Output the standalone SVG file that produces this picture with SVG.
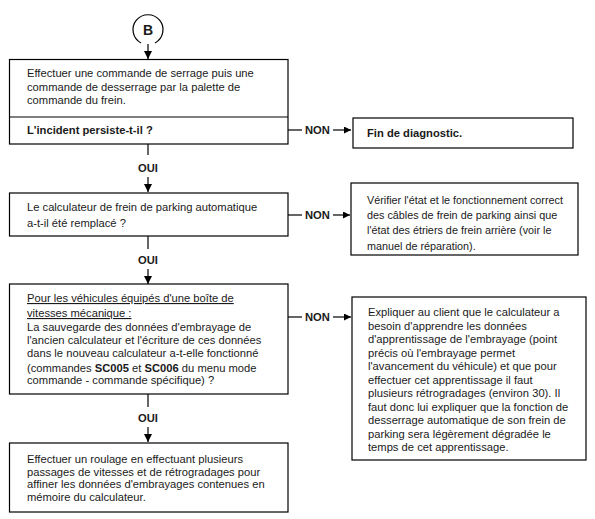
<svg xmlns="http://www.w3.org/2000/svg" width="595" height="519" viewBox="0 0 595 519">
<style>
.box{fill:#fff;stroke:#000;stroke-width:1.2}
.ln{stroke:#000;stroke-width:1.2;fill:none}
text{font-family:"Liberation Sans",Arial,sans-serif;font-size:11.2px;fill:#1a1a1a}
.b{font-weight:bold}
.s{font-size:10.8px}
</style>
<defs>
<marker id="ad" viewBox="0 0 10 10" refX="10" refY="5" markerWidth="8" markerHeight="8" markerUnits="userSpaceOnUse" orient="auto"><path d="M0,0L10,5L0,10z" fill="#000"/></marker>
<marker id="ar" viewBox="0 0 10 10" refX="10" refY="5" markerWidth="7" markerHeight="7" markerUnits="userSpaceOnUse" orient="auto"><path d="M0,0L10,5L0,10z" fill="#000"/></marker>
</defs>
<rect width="595" height="519" fill="#fff"/>
<g id="start">
<path class="ln" d="M141,43 A15,15 0 1 1 155,43" stroke-width="1.8"/>
<text x="148" y="35" text-anchor="middle" class="b" style="font-size:14px">B</text>
</g>
<g id="connectors">
<line class="ln" x1="148" y1="44" x2="148" y2="59" marker-end="url(#ad)"/>
<line class="ln" x1="288" y1="130" x2="302" y2="130"/>
<text x="305" y="134" class="b">NON</text>
<line class="ln" x1="333" y1="130" x2="351" y2="130" marker-end="url(#ar)"/>
<line class="ln" x1="148" y1="144" x2="148" y2="155"/>
<text x="148" y="172" class="b" text-anchor="middle">OUI</text>
<line class="ln" x1="148" y1="177" x2="148" y2="192" marker-end="url(#ad)"/>
<line class="ln" x1="288" y1="215" x2="302" y2="215"/>
<text x="305" y="219" class="b">NON</text>
<line class="ln" x1="333" y1="215" x2="350" y2="215" marker-end="url(#ar)"/>
<line class="ln" x1="148" y1="236" x2="148" y2="249"/>
<text x="148" y="264" class="b" text-anchor="middle">OUI</text>
<line class="ln" x1="148" y1="269" x2="148" y2="284" marker-end="url(#ad)"/>
<line class="ln" x1="288" y1="317" x2="302" y2="317"/>
<text x="305" y="321" class="b">NON</text>
<line class="ln" x1="333" y1="317" x2="351" y2="317" marker-end="url(#ar)"/>
<line class="ln" x1="148" y1="394" x2="148" y2="407"/>
<text x="148" y="422" class="b" text-anchor="middle">OUI</text>
<line class="ln" x1="148" y1="427" x2="148" y2="442" marker-end="url(#ad)"/>
</g>
<g id="n1">
<rect class="box" x="9.5" y="59.5" width="278.5" height="84.5"/>
<line class="ln" x1="9.5" y1="117" x2="288" y2="117"/>
<text x="27" y="77">Effectuer une commande de serrage puis une</text>
<text x="27" y="91">commande de desserrage par la palette de</text>
<text x="27" y="104">commande du frein.</text>
<text x="27" y="134" class="b">L'incident persiste-t-il ?</text>
</g>
<g id="n2">
<rect class="box" x="353" y="118" width="220" height="30"/>
<text x="367" y="137" class="b">Fin de diagnostic.</text>
</g>
<g id="n3">
<rect class="box" x="9.5" y="193" width="278.5" height="43"/>
<text x="27" y="211">Le calculateur de frein de parking automatique</text>
<text x="27" y="227">a-t-il été remplacé ?</text>
</g>
<g id="n4">
<rect class="box" x="351" y="183" width="227" height="72"/>
<text x="367" y="204" class="s">Vérifier l'état et le fonctionnement correct</text>
<text x="367" y="219" class="s">des câbles de frein de parking ainsi que</text>
<text x="367" y="234" class="s">l'état des étriers de frein arrière (voir le</text>
<text x="367" y="250" class="s">manuel de réparation).</text>
</g>
<g id="n5">
<rect class="box" x="9.5" y="284" width="278.5" height="110"/>
<text x="27" y="302" text-decoration="underline">Pour les véhicules équipés d'une boîte de </text>
<text x="27" y="317" text-decoration="underline">vitesses mécanique :</text>
<text x="27" y="331">La sauvegarde des données d'embrayage de</text>
<text x="27" y="344">l'ancien calculateur et l'écriture de ces données</text>
<text x="27" y="357">dans le nouveau calculateur a-t-elle fonctionné</text>
<text x="27" y="372">(commandes <tspan class="b">SC005</tspan> et <tspan class="b">SC006</tspan> du menu mode</text>
<text x="27" y="384">commande - commande spécifique) ?</text>
</g>
<g id="n6">
<rect class="box" x="352" y="297" width="234" height="163"/>
<text x="368" y="316">Expliquer au client que le calculateur a</text>
<text x="368" y="329.5">besoin d'apprendre les données</text>
<text x="368" y="343">d'apprentissage de l'embrayage (point</text>
<text x="368" y="356.5">précis où l'embrayage permet</text>
<text x="368" y="370">l'avancement du véhicule) et que pour</text>
<text x="368" y="383.5">effectuer cet apprentissage il faut</text>
<text x="368" y="397">plusieurs rétrogradages (environ 30). Il</text>
<text x="368" y="410.5">faut donc lui expliquer que la fonction de</text>
<text x="368" y="424">desserrage automatique de son frein de</text>
<text x="368" y="437.5">parking sera légèrement dégradée le</text>
<text x="368" y="451">temps de cet apprentissage.</text>
</g>
<g id="n7">
<rect class="box" x="9.5" y="443" width="278.5" height="69"/>
<text x="27" y="463">Effectuer un roulage en effectuant plusieurs</text>
<text x="27" y="476">passages de vitesses et de rétrogradages pour</text>
<text x="27" y="488">affiner les données d'embrayages contenues en</text>
<text x="27" y="501">mémoire du calculateur.</text>
</g>
</svg>
